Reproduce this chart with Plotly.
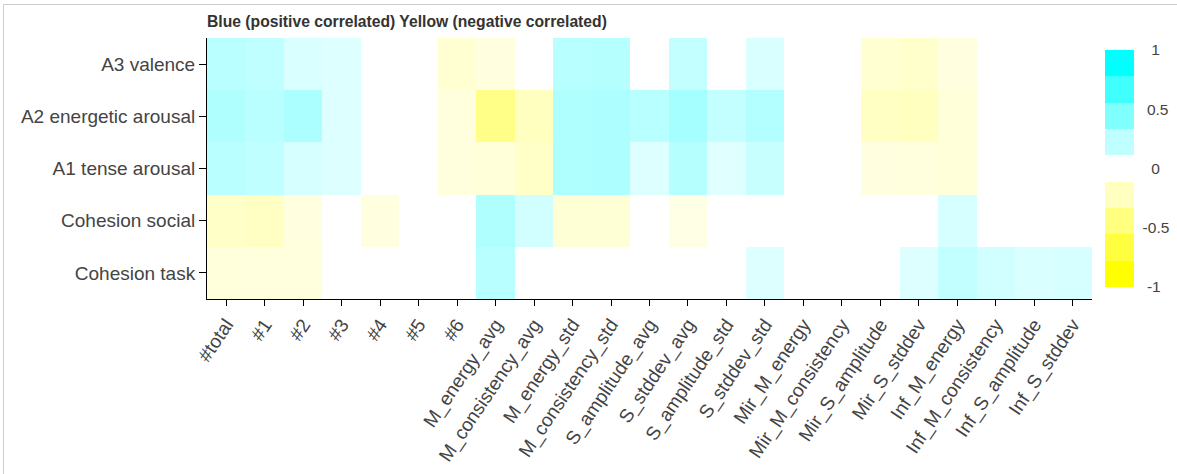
import plotly.graph_objects as go

# Feature columns (x) and outcome rows (y, listed top to bottom)
features = [
    "#total", "#1", "#2", "#3", "#4", "#5", "#6",
    "M_energy_avg", "M_consistency_avg", "M_energy_std", "M_consistency_std",
    "S_amplitude_avg", "S_stddev_avg", "S_amplitude_std", "S_stddev_std",
    "Mir_M_energy", "Mir_M_consistency", "Mir_S_amplitude", "Mir_S_stddev",
    "Inf_M_energy", "Inf_M_consistency", "Inf_S_amplitude", "Inf_S_stddev",
]
outcomes = ["A3 valence", "A2 energetic arousal", "A1 tense arousal",
            "Cohesion social", "Cohesion task"]

# Correlation coefficients; None = not significant (left blank)
a3_valence = [0.27, 0.25, 0.15, 0.13, None, None, -0.18, -0.12, None, 0.28, 0.29, None,
              0.23, None, 0.15, None, None, -0.18, -0.20, -0.12, None, None, None]
a2_energetic = [0.31, 0.27, 0.33, 0.13, None, None, -0.13, -0.47, -0.25, 0.31, 0.32, 0.28,
                0.35, 0.23, 0.30, None, None, -0.23, -0.25, -0.15, None, None, None]
a1_tense = [0.27, 0.25, 0.16, 0.13, None, None, -0.13, -0.15, -0.22, 0.31, 0.32, 0.13,
            0.29, 0.12, 0.22, None, None, -0.12, -0.13, -0.15, None, None, None]
cohesion_social = [-0.22, -0.23, -0.12, None, -0.12, None, None, 0.31, 0.18, -0.16, -0.16, None,
                   -0.10, None, None, None, None, None, None, 0.16, None, None, None]
cohesion_task = [-0.14, -0.13, -0.13, None, None, None, None, 0.28, None, None, None, None,
                 None, None, 0.13, None, None, None, 0.13, 0.24, 0.18, 0.15, 0.16]

z = [a3_valence, a2_energetic, a1_tense, cohesion_social, cohesion_task]

# Continuous scale for the cells: yellow (negative) -> white -> cyan (positive)
cell_scale = [[0.0, "#FFFF00"], [0.5, "#FFFFFF"], [1.0, "#00FFFF"]]

# Stepped scale (9 equal bins over [-1, 1]) used for the legend bar
step_colors = ["#FFFF00", "#FFFF40", "#FFFF80", "#FFFFC0", "#FFFFFF",
               "#C0FFFF", "#80FFFF", "#40FFFF", "#00FFFF"]
step_scale = []
n = len(step_colors)
for i, c in enumerate(step_colors):
    step_scale.append([i / n, c])
    step_scale.append([(i + 1) / n, c])

# Colour-bar tick labels, padded with no-break spaces so they sit centred
bar_ticks = [-1, -0.5, 0, 0.5, 1]
bar_labels = ["\u00a0-1", "-0.5", "\u00a0\u00a00", "\u00a00.5", "\u00a0\u00a01"]

font_family = "Liberation Sans, Arial, Helvetica, sans-serif"
label_color = "#444444"

fig = go.Figure()
fig.add_trace(go.Heatmap(
    z=z, x=features, y=outcomes,
    colorscale=cell_scale, zmin=-1, zmax=1,
    showscale=False, xgap=0, ygap=0,
    hoverongaps=False,
))

# Legend bar carrier (invisible marker)
fig.add_trace(go.Scatter(
    x=[features[0]], y=[outcomes[0]], mode="markers",
    marker=dict(
        size=0.1, opacity=0, color=[0], cmin=-1, cmax=1,
        colorscale=step_scale, showscale=True,
        colorbar=dict(
            x=(1105 - 207) / 885, xanchor="left", xpad=0,
            y=0.5, yanchor="middle", len=237 / 261, lenmode="fraction", ypad=0,
            thickness=29, outlinewidth=0,
            tickvals=bar_ticks, ticktext=bar_labels,
            ticks="outside", ticklen=6, tickcolor="rgba(0,0,0,0)", tickwidth=1,
            tickfont=dict(family=font_family, size=15.5, color=label_color),
        ),
    ),
    hoverinfo="skip", showlegend=False,
))

fig.update_layout(
    width=1177, height=474, autosize=False,
    margin=dict(l=207, r=85, t=38, b=175, autoexpand=False),
    paper_bgcolor="white", plot_bgcolor="white",
    font=dict(family=font_family, color=label_color),
    title=dict(
        text="<b>Blue (positive correlated) Yellow (negative correlated)</b>",
        x=0, xref="paper", xanchor="left",
        y=1 - 22 / 474, yref="container", yanchor="middle",
        font=dict(family=font_family, size=15.7, color="#333333"),
    ),
    xaxis=dict(
        type="category", tickangle=-56, showgrid=False, zeroline=False,
        showline=True, linecolor="#000000", linewidth=1,
        ticks="outside", ticklen=6, tickcolor="#000000",
        tickfont=dict(size=19, color=label_color),
        range=[-0.5, len(features) - 0.5],
    ),
    yaxis=dict(
        type="category", autorange="reversed", showgrid=False, zeroline=False,
        showline=True, linecolor="#000000", linewidth=1,
        ticks="outside", ticklen=7, tickcolor="#000000",
        tickfont=dict(size=19, color=label_color),
    ),
    shapes=[dict(
        type="rect", xref="paper", yref="paper",
        x0=(3.5 - 207) / 885, x1=(1200 - 207) / 885,
        y0=(298 - 500) / 261, y1=(298 - 3.5) / 261,
        line=dict(color="#CCCCCC", width=1), fillcolor="rgba(0,0,0,0)",
        layer="below",
    )],
)

fig.write_html("out.html")
